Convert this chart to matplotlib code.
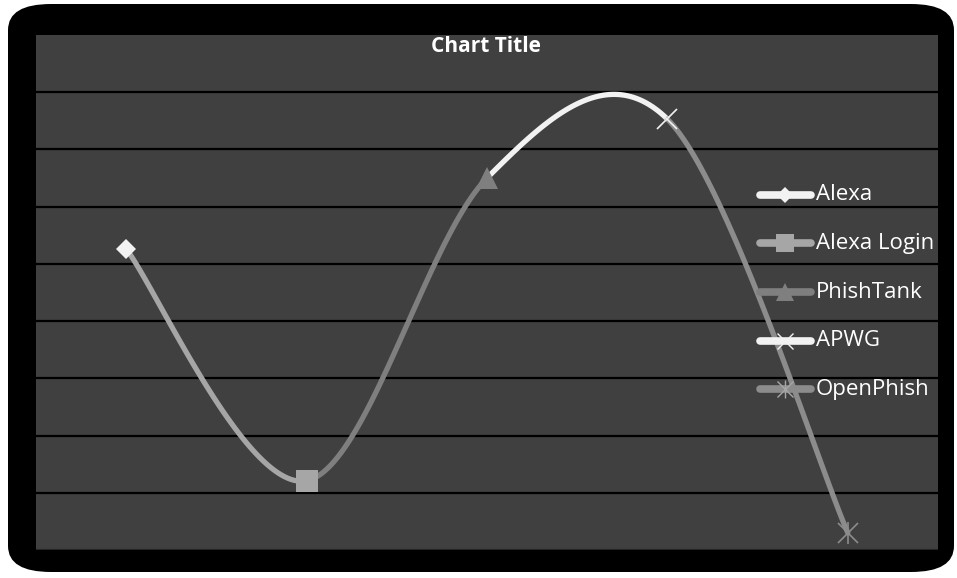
import numpy as np
import matplotlib
matplotlib.use("Agg")
import matplotlib.pyplot as plt
from matplotlib.patches import FancyBboxPatch

# data (grid units, one unit per gridline)
categories = ["Alexa", "Alexa Login", "PhishTank", "APWG", "OpenPhish"]
values = [5.26, 1.21, 6.50, 7.53, 0.30]
point_colors = ["#f2f2f2", "#a6a6a6", "#7f7f7f", "#f2f2f2", "#8c8c8c"]
markers = ["D", "s", "^", "x", "*"]
marker_sizes = [10, 16, 16, 15, 15]

W, H = 957, 578
fig = plt.figure(figsize=(W / 100, H / 100), dpi=100, facecolor="white")

# black rounded frame behind everything
frame = FancyBboxPatch((8 / W, 6 / H), 946 / W, 568 / H,
                       boxstyle="round,pad=0,rounding_size=0.045",
                       transform=fig.transFigure, facecolor="black",
                       edgecolor="none", zorder=0)
fig.patches.append(frame)

ax = fig.add_axes([36 / W, (H - 550) / H, (938 - 36) / W, (550 - 35) / H])
ax.set_zorder(2)
ax.set_facecolor("#404040")
for s in ax.spines.values():
    s.set_visible(False)
ax.set_xticks([])
ax.set_yticks([])
ax.set_xlim(-0.5, len(categories) - 0.5)
ax.set_ylim(0, 9)

for g in range(0, 9):
    ax.axhline(g, color="#000000" if g else "#262626", lw=1.6, zorder=1)


def smooth(p0, p1, p2, p3, n=60):
    # Catmull-Rom style Bezier like Excel's smoothed line
    c1 = p1 + (p2 - p0) / 6.0
    c2 = p2 - (p3 - p1) / 6.0
    t = np.linspace(0, 1, n)[:, None]
    return ((1 - t) ** 3 * p1 + 3 * (1 - t) ** 2 * t * c1
            + 3 * (1 - t) * t ** 2 * c2 + t ** 3 * p2)


pts = np.column_stack([np.arange(len(values)), values]).astype(float)
for i in range(len(pts) - 1):
    p0 = pts[i - 1] if i > 0 else pts[i]
    p3 = pts[i + 2] if i + 2 < len(pts) else pts[i + 1]
    seg = smooth(p0, pts[i], pts[i + 1], p3)
    ax.plot(seg[:, 0], seg[:, 1], color=point_colors[i + 1], lw=3.8,
            solid_capstyle="round", zorder=3)

for i, v in enumerate(values):
    m = markers[i]
    if m in ("x", "*"):
        ax.plot(i, v, marker="x", ms=marker_sizes[i], mew=1.2,
                color=point_colors[i], zorder=5, clip_on=False)
        if m == "*":
            ax.plot(i, v, marker="|", ms=marker_sizes[i] * 1.1, mew=1.2,
                    color=point_colors[i], zorder=5, clip_on=False)
    else:
        ax.plot(i, v, marker=m, ms=marker_sizes[i], mew=0,
                color=point_colors[i], zorder=5, clip_on=False)

fig.text(486 / W, 1 - 47 / H, "Chart Title", ha="center", va="center",
         color="white", fontsize=15, fontweight="bold", family="Open Sans",
         zorder=9)

# legend drawn by hand in figure pixels
leg_y = [195, 243, 292, 341, 389]
for i, lab in enumerate(categories):
    y = 1 - leg_y[i] / H
    fig.lines.append(plt.Line2D([760 / W, 811 / W], [y, y], transform=fig.transFigure,
                                color=point_colors[i], lw=5.5, solid_capstyle="round",
                                zorder=6))
    m = markers[i]
    if m in ("x", "*"):
        fig.lines.append(plt.Line2D([785 / W], [y], transform=fig.transFigure,
                                    marker="x", ms=12, mew=1.0, linestyle="none",
                                    color=point_colors[i] if m == "x" else "#a6a6a6",
                                    zorder=7))
        if m == "*":
            fig.lines.append(plt.Line2D([785 / W], [y], transform=fig.transFigure,
                                        marker="|", ms=13, mew=1.0, linestyle="none",
                                        color="#a6a6a6", zorder=7))
    else:
        fig.lines.append(plt.Line2D([785 / W], [y], transform=fig.transFigure,
                                    marker=m, ms=marker_sizes[i] * 0.85, mew=0,
                                    linestyle="none", color=point_colors[i], zorder=7))
    t = ax.text(816 / W, y, lab, transform=fig.transFigure, ha="left", va="center",
                color="white", fontsize=16, family="Open Sans", zorder=8)
    t.set_clip_on(True)
    t.set_clip_box(ax.bbox)

fig.savefig("out.png", dpi=100, facecolor="white")
